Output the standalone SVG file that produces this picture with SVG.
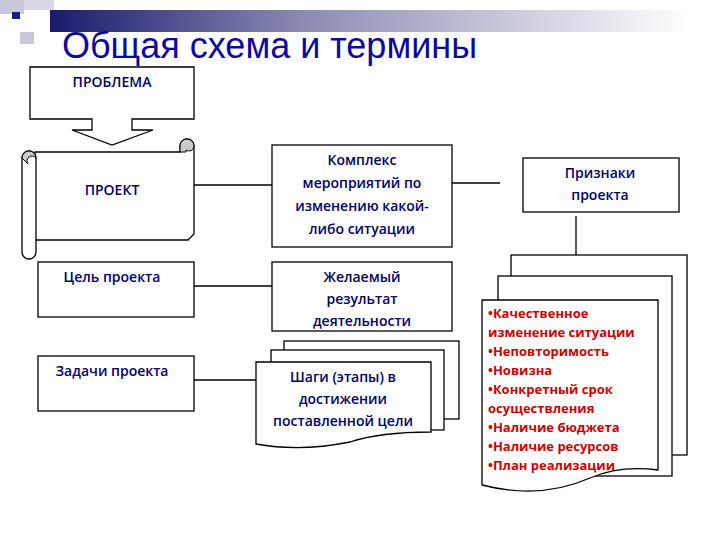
<svg xmlns="http://www.w3.org/2000/svg" width="720" height="540" viewBox="0 0 720 540">
<defs>
<linearGradient id="bar" x1="0" x2="1" y1="0" y2="0"><stop offset="0" stop-color="#1a1a6e"/><stop offset="0.4" stop-color="#8c8cb4"/><stop offset="1" stop-color="#ffffff"/></linearGradient>
<style>
.b{fill:#fff;stroke:#000;stroke-width:1.3}
.l{stroke:#000;stroke-width:1.3;fill:none}
.t{font-family:"Open Sans","DejaVu Sans",sans-serif;font-size:14px;fill:#000066;text-anchor:middle;font-weight:600}
.r{font-family:"Open Sans","DejaVu Sans",sans-serif;font-size:13px;fill:#cc0000;font-weight:bold}
</style>
</defs>
<rect width="720" height="540" fill="#fff"/>
<g id="header">
<rect x="0" y="0" width="24" height="14" fill="#c8c8dc"/>
<rect x="24" y="0" width="30" height="10" fill="#d8d8e6"/>
<rect x="20" y="32" width="14" height="12" fill="#c8c8dc"/>
<rect x="50" y="10" width="640" height="22" fill="url(#bar)"/>
<rect x="12" y="12" width="8" height="7" fill="#1a1a8e"/>
</g>
<text x="62" y="58" font-family="Liberation Sans,Arial,sans-serif" font-size="36" fill="#0a0a9e">Общая схема и термины</text>
<g id="connectors" class="l">
<line x1="194" y1="185" x2="272" y2="185"/>
<line x1="452" y1="183" x2="500" y2="183"/>
<line x1="576" y1="216" x2="576" y2="255"/>
<line x1="194" y1="286" x2="272" y2="286"/>
<line x1="194" y1="380" x2="256" y2="380"/>
</g>
<g id="problema">
<path class="b" d="M30 67H194V119H132V130H153L112 145L72 130H92V119H30Z"/>
<text class="t" x="112" y="87" font-size="13">ПРОБЛЕМА</text>
</g>
<g id="proekt">
<path class="b" d="M35 152H180V146A7 7 0 0 1 194 146V234L188 240H35Z"/>
<path d="M180 146A7 7 0 0 1 194 146A5 5 0 0 1 186 150V152H180Z" fill="#ccc" stroke="#000"/>
<path class="b" d="M22 158A7 7 0 0 1 36 158V252A7 7 0 0 1 22 252Z"/>
<path d="M22 158A7 7 0 0 1 36 158A5 5 0 0 0 28 164Z" fill="#ccc" stroke="#000"/>
<text class="t" x="112" y="195">ПРОЕКТ</text>
</g>
<g id="kompleks">
<rect class="b" x="272" y="145" width="180" height="102"/>
<text class="t" x="362" y="165">Комплекс</text>
<text class="t" x="362" y="188">мероприятий по</text>
<text class="t" x="362" y="211">изменению какой-</text>
<text class="t" x="362" y="234">либо ситуации</text>
</g>
<g id="priznaki">
<rect class="b" x="523" y="158" width="156" height="54"/>
<text class="t" x="600" y="178">Признаки</text>
<text class="t" x="600" y="200">проекта</text>
</g>
<g id="tsel">
<rect class="b" x="38" y="262" width="156" height="55"/>
<text class="t" x="112" y="282">Цель проекта</text>
</g>
<g id="zhelaemy">
<rect class="b" x="272" y="262" width="180" height="69"/>
<text class="t" x="362" y="282">Желаемый</text>
<text class="t" x="362" y="304">результат</text>
<text class="t" x="362" y="326">деятельности</text>
</g>
<g id="zadachi">
<rect class="b" x="38" y="356" width="156" height="55"/>
<text class="t" x="112" y="376">Задачи проекта</text>
</g>
<g id="shagi">
<rect class="b" x="284" y="341" width="175" height="78"/>
<rect class="b" x="271" y="350" width="173" height="80"/>
<path class="b" d="M256 362H431V432Q380 432 350 442Q300 452 256 444Z"/>
<text class="t" x="343" y="382">Шаги (этапы) в</text>
<text class="t" x="343" y="404">достижении</text>
<text class="t" x="343" y="426">поставленной цели</text>
</g>
<g id="list">
<rect class="b" x="511" y="255" width="176" height="200"/>
<rect class="b" x="498" y="276" width="174" height="200"/>
<path class="b" d="M482 300H658V470Q620 465 590 478Q540 500 482 485Z"/>
<g class="r">
<text x="488" y="318">•Качественное</text>
<text x="488" y="337">изменение ситуации</text>
<text x="488" y="356">•Неповторимость</text>
<text x="488" y="375">•Новизна</text>
<text x="488" y="394">•Конкретный срок</text>
<text x="488" y="413">осуществления</text>
<text x="488" y="432">•Наличие бюджета</text>
<text x="488" y="451">•Наличие ресурсов</text>
<text x="488" y="470">•План реализации</text>
</g>
</g>
</svg>
